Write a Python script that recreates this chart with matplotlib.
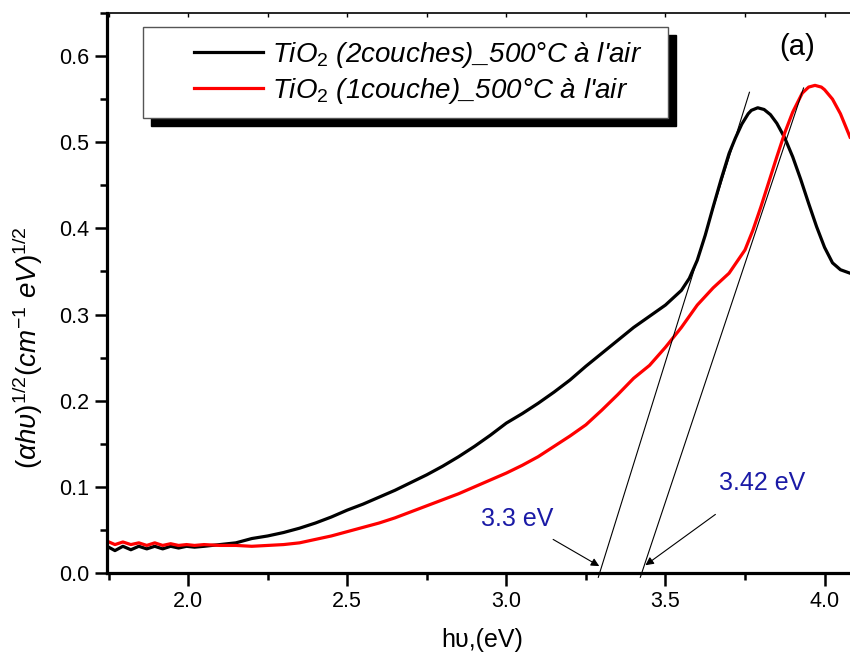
import matplotlib
matplotlib.use("Agg")
import matplotlib.pyplot as plt
from matplotlib.patches import Rectangle
from matplotlib.ticker import MultipleLocator, FormatStrFormatter

plt.rcParams['font.family'] = ['Liberation Sans', 'DejaVu Sans']
plt.rcParams['mathtext.fontset'] = 'custom'
plt.rcParams['mathtext.rm'] = 'Liberation Sans'
plt.rcParams['mathtext.it'] = 'Liberation Sans:italic'

# black curve: TiO2 2 couches
x_2c = [1.745, 1.77, 1.795, 1.82, 1.845, 1.87, 1.895, 1.92, 1.945, 1.97, 1.995,
        2.02, 2.05, 2.1, 2.15, 2.2, 2.25, 2.3, 2.35, 2.4, 2.45, 2.5, 2.55, 2.6,
        2.65, 2.7, 2.75, 2.8, 2.85, 2.9, 2.95, 3.0, 3.05, 3.1, 3.15, 3.2, 3.25,
        3.3, 3.35, 3.4, 3.45, 3.5, 3.55, 3.575, 3.6, 3.625, 3.65, 3.675, 3.7,
        3.72, 3.74, 3.76, 3.77, 3.79, 3.81, 3.83, 3.85, 3.875, 3.9, 3.925, 3.95,
        3.975, 4.0, 4.025, 4.05, 4.08]
y_2c = [0.031, 0.026, 0.031, 0.027, 0.031, 0.028, 0.031, 0.028, 0.031, 0.029, 0.031,
        0.030, 0.031, 0.033, 0.035, 0.040, 0.043, 0.047, 0.052, 0.058, 0.065, 0.073,
        0.080, 0.088, 0.096, 0.105, 0.114, 0.124, 0.135, 0.147, 0.160, 0.174, 0.185,
        0.197, 0.210, 0.224, 0.240, 0.255, 0.270, 0.285, 0.298, 0.311, 0.328, 0.342,
        0.363, 0.392, 0.425, 0.457, 0.487, 0.505, 0.521, 0.533, 0.537, 0.540, 0.538,
        0.532, 0.522, 0.505, 0.483, 0.457, 0.429, 0.402, 0.378, 0.360, 0.352, 0.348]

# red curve: TiO2 1 couche
x_1c = [1.745, 1.77, 1.795, 1.82, 1.845, 1.87, 1.895, 1.92, 1.945, 1.97, 1.995,
        2.02, 2.05, 2.1, 2.15, 2.2, 2.25, 2.3, 2.35, 2.4, 2.45, 2.5, 2.55, 2.6,
        2.65, 2.7, 2.75, 2.8, 2.85, 2.9, 2.95, 3.0, 3.05, 3.1, 3.15, 3.2, 3.25,
        3.3, 3.35, 3.4, 3.45, 3.5, 3.55, 3.6, 3.65, 3.7, 3.75, 3.775, 3.8, 3.825,
        3.85, 3.875, 3.9, 3.93, 3.95, 3.97, 3.99, 4.0, 4.025, 4.05, 4.08]
y_1c = [0.037, 0.033, 0.036, 0.033, 0.035, 0.032, 0.035, 0.032, 0.034, 0.032, 0.033,
        0.032, 0.033, 0.032, 0.032, 0.031, 0.032, 0.033, 0.035, 0.039, 0.043, 0.048,
        0.053, 0.058, 0.064, 0.071, 0.078, 0.085, 0.092, 0.100, 0.108, 0.116, 0.125,
        0.135, 0.147, 0.159, 0.172, 0.189, 0.207, 0.226, 0.241, 0.262, 0.285, 0.311,
        0.331, 0.348, 0.375, 0.398, 0.425, 0.454, 0.483, 0.511, 0.535, 0.557, 0.564,
        0.566, 0.564, 0.561, 0.550, 0.533, 0.506]

labels = [r"$TiO_2$ (2couches)_500°C à l'air", r"$TiO_2$ (1couche)_500°C à l'air"]

# tangent lines (start, end)
tan_x = [[3.289, 3.764], [3.421, 3.934]]
tan_y = [[-0.005, 0.558], [-0.005, 0.563]]

gap_labels = ['3.3 eV', '3.42 eV']
gap_text_xy = [(3.034, 0.063), (3.805, 0.104)]
arrow_start = [(3.147, 0.039), (3.657, 0.068)]
arrow_end = [(3.292, 0.008), (3.437, 0.009)]

fig = plt.figure(figsize=(8.5, 6.57), dpi=100)
ax = fig.add_axes([107 / 850, 84 / 657, 743 / 850, 560 / 657])

l1, = ax.plot(x_2c, y_2c, color='black', linewidth=2.3)
l2, = ax.plot(x_1c, y_1c, color='#ff0000', linewidth=2.3)

for tx, ty in zip(tan_x, tan_y):
    ax.plot(tx, ty, color='black', linewidth=0.8, clip_on=False)

blue = '#1a1aa6'
for lab, (tx, ty) in zip(gap_labels, gap_text_xy):
    ax.text(tx, ty, lab, color=blue, fontsize=18, ha='center', va='center')
for s, e in zip(arrow_start, arrow_end):
    ax.annotate('', xy=e, xytext=s,
                arrowprops=dict(arrowstyle='-|>', color='black', lw=0.8,
                                mutation_scale=12, shrinkA=0, shrinkB=0))

ax.text(3.915, 0.610, '(a)', fontsize=21, ha='center', va='center')

ax.set_xlim(1.745, 4.08)
ax.set_ylim(0, 0.65)
ax.xaxis.set_major_locator(MultipleLocator(0.5))
ax.xaxis.set_minor_locator(MultipleLocator(0.25))
ax.yaxis.set_major_locator(MultipleLocator(0.1))
ax.yaxis.set_minor_locator(MultipleLocator(0.05))
ax.xaxis.set_major_formatter(FormatStrFormatter('%.1f'))
ax.yaxis.set_major_formatter(FormatStrFormatter('%.1f'))

ax.spines['right'].set_visible(False)
ax.spines['left'].set_linewidth(2.3)
ax.spines['bottom'].set_linewidth(2.3)
ax.spines['top'].set_linewidth(1.2)
ax.tick_params(which='major', direction='out', length=9, width=1.8, labelsize=15.5, pad=4)
ax.tick_params(which='minor', direction='out', length=5, width=1.8)
ax.tick_params(axis='x', which='both', top=True, labeltop=False)
for t in ax.xaxis.get_major_ticks() + ax.xaxis.get_minor_ticks():
    t.tick2line.set_marker(3)
    t.tick2line.set_markersize(3)
    t.tick2line.set_markeredgewidth(1)

ax.set_xlabel('hυ,(eV)', fontsize=18)
ax.xaxis.set_label_coords(0.505, -0.098)
ax.set_ylabel(r'$(\alpha h\upsilon)^{1/2}(cm^{-1}\ eV)^{1/2}$', fontsize=20)
ax.yaxis.set_label_coords(-0.083, 0.402)

# legend frame with solid black shadow
ax.add_patch(Rectangle((151 / 850, 1 - 126 / 657), 525 / 850, 91 / 657,
                       transform=fig.transFigure, facecolor='black',
                       edgecolor='black', zorder=5, clip_on=False))
ax.add_patch(Rectangle((143 / 850, 1 - 118 / 657), 525 / 850, 91 / 657,
                       transform=fig.transFigure, facecolor='white',
                       edgecolor='#555555', linewidth=1, zorder=6, clip_on=False))
leg = ax.legend([l1, l2], labels, loc='upper left', frameon=False,
                bbox_to_anchor=(194 / 850, 1 - 40 / 657), bbox_transform=fig.transFigure,
                prop={'size': 20, 'style': 'italic'}, handlelength=2.5,
                handletextpad=0.3, borderpad=0, borderaxespad=0, labelspacing=0.2)
leg.set_zorder(10)

fig.savefig('out.png', dpi=100)
